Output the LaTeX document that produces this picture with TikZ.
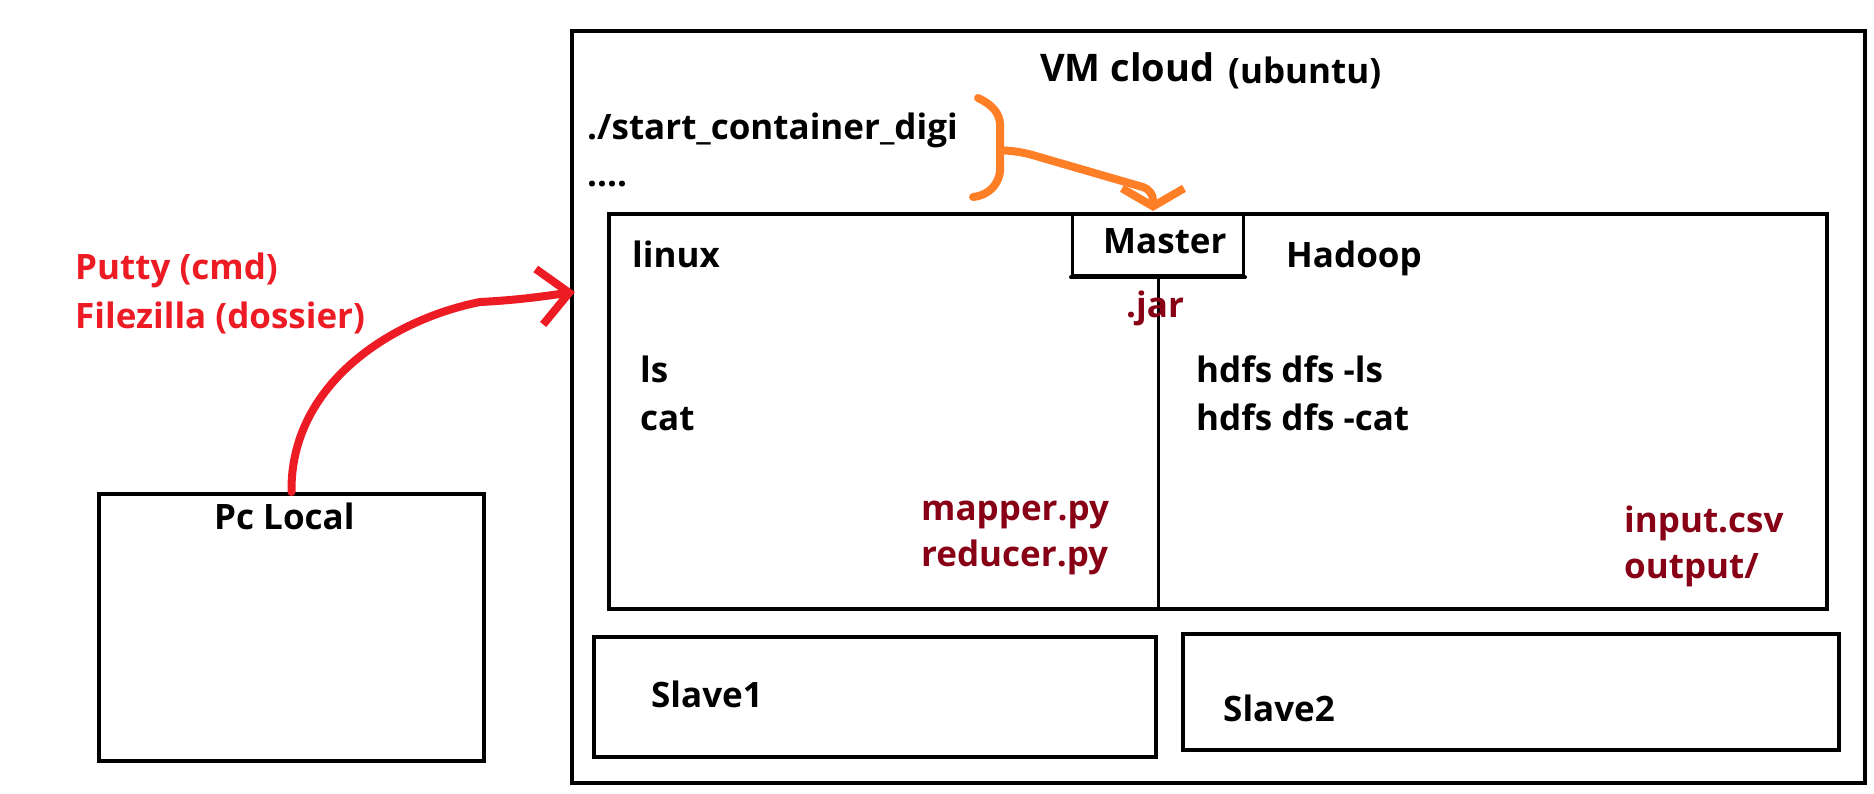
\documentclass[tikz,border=0pt]{standalone}
\usepackage{fontspec}
\setmainfont{Open Sans}
\usepackage{tikz}
\usetikzlibrary{arrows.meta}
\definecolor{PaintRed}{RGB}{237,28,36}
\definecolor{PaintOrange}{RGB}{255,127,39}
\definecolor{PaintDarkRed}{RGB}{136,0,21}

\begin{document}
\begin{tikzpicture}[x=1pt,y=-1pt,box/.style={draw,line width=4pt,rectangle,inner sep=0pt},txt/.style={anchor=base west,inner sep=0pt,font=\bfseries\fontsize{35}{42}\selectfont},file/.style={txt,text=PaintDarkRed},note/.style={txt,text=PaintRed},pen/.style={line width=8pt,line cap=round,line join=round}]
\fill[white] (0,0) rectangle (1874,794);
\useasboundingbox (0,0) rectangle (1874,794);
% boxes
\node[box,minimum width=385pt,minimum height=267pt](pc) at (291.5,627.5) {};
\node[box,minimum width=1293pt,minimum height=752pt](vm) at (1218.5,407) {};
\node[box,minimum width=1218pt,minimum height=395pt](inner) at (1218,411.5) {};
\node[box,line width=3pt,minimum width=171pt,minimum height=62pt](master) at (1158,245) {};
\node[box,minimum width=562pt,minimum height=120pt](slave1) at (875,697) {};
\node[box,minimum width=656pt,minimum height=116pt](slave2) at (1511,692) {};
\draw[line width=3pt] (master.south) -- (master.south |- inner.south);
\draw[line width=4pt,line cap=round] (master.south west) -- (master.south east);
% texts
\node[txt,font=\bfseries\fontsize{38}{44}\selectfont](vmname) at (1040,82) {VM cloud};
\node[txt,font=\bfseries\fontsize{35}{41}\selectfont](vmos) at (1228,84) {(ubuntu)};
\node[txt](startcmd) at (587,140) {./start\_container\_digi};
\node[txt](dots) at (587,187) {....};
\node[txt](linux) at (632,268) {linux};
\node[txt](mastertxt) at (1103,254) {Master};
\node[txt](hadoop) at (1286,268) {Hadoop};
\node[file](jar) at (1126,317) {.jar};
\node[txt](ls) at (640,382) {ls};
\node[txt](cat) at (640,430) {cat};
\node[txt](hdfsls) at (1196,382) {hdfs dfs -ls};
\node[txt](hdfscat) at (1196,430) {hdfs dfs -cat};
\node[file](mapper) at (921,520) {mapper.py};
\node[file](reducer) at (921,566) {reducer.py};
\node[file](input) at (1624,532) {input.csv};
\node[file](output) at (1624,578) {output/};
\node[txt](slaveone) at (651,707) {Slave1};
\node[txt](slavetwo) at (1223,721) {Slave2};
\node[txt](pclocal) at (214,529) {Pc Local};
\node[note](putty) at (75,280) {Putty (cmd)};
\node[note](filezilla) at (75,328) {Filezilla (dossier)};
% hand drawn arrows
\coordinate (vmin) at (575,292);
\coordinate (brk) at (1000,150);
\draw[pen,PaintRed,-{Straight Barb[length=30pt,width=56pt]}] (pc.north) .. controls (290,385) and (390,320) .. (480,302) .. controls (520,300) and (545,296) .. (vmin);
\draw[pen,PaintOrange] (978,98) .. controls (993,105) and (1000,114) .. (1000,125) -- (1000,172) .. controls (998,184) and (990,195) .. (973,197);
\draw[pen,PaintOrange,rounded corners=10pt,-{Straight Barb[length=18pt,width=62pt]}] (brk) -- (1022,152) -- (1153,190) -- (1153,211);
\end{tikzpicture}
\end{document}
